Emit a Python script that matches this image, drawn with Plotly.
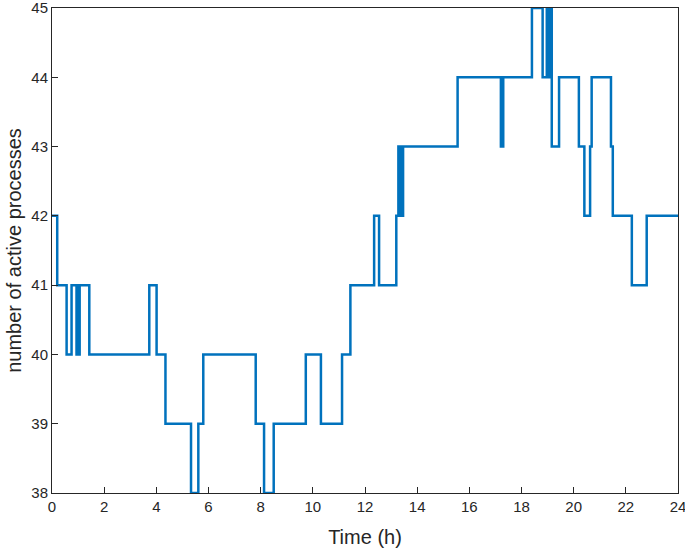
import plotly.graph_objects as go

# step change times (h) and number of active processes after each change
times = [0, 0.20, 0.56, 0.75, 0.94, 0.98, 1.02, 1.06, 1.43, 3.73, 4.01, 4.35,
         5.33, 5.61, 5.80, 7.81, 8.13, 8.50, 9.73, 10.31, 11.12, 11.44, 12.35,
         12.54, 13.20, 13.28, 13.33, 13.37, 13.42, 13.46, 15.55, 17.21, 17.25,
         17.27, 17.30, 18.40, 18.81, 18.97, 19.05, 19.08, 19.16, 19.44, 20.20,
         20.41, 20.63, 20.69, 21.43, 21.50, 22.23, 22.80, 24]
processes = [42, 41, 40, 41, 40, 41, 40, 41, 40, 41, 40, 39,
             38, 39, 40, 39, 38, 39, 40, 39, 40, 41, 42,
             41, 42, 43, 42, 43, 42, 43, 44, 43, 44,
             43, 44, 45, 44, 45, 44, 45, 43, 44, 43,
             42, 43, 44, 43, 42, 41, 42, 42]

x_ticks = list(range(0, 25, 2))
y_ticks = list(range(38, 46))

fig = go.Figure()

fig.add_trace(go.Scatter(
    x=times, y=processes,
    mode='lines',
    line=dict(color='#0072BD', width=2.5, shape='hv'),
    showlegend=False
))

axis_style = dict(
    showline=True, mirror=True, linecolor='#262626', linewidth=1,
    ticks='inside', ticklen=6, tickcolor='#262626', tickwidth=1,
    showgrid=False, zeroline=False, automargin=False,
    ticklabeloverflow='allow',
    tickfont=dict(family='Liberation Sans, Arial, sans-serif', size=15, color='#262626'),
)

fig.update_layout(
    width=685, height=550,
    margin=dict(l=52, r=7, t=8, b=57),
    paper_bgcolor='white', plot_bgcolor='white',
    font=dict(family='Liberation Sans, Arial, sans-serif', color='#262626'),
    xaxis=dict(range=[0, 24], tickvals=x_ticks,
               title=dict(text='Time (h)', font=dict(size=20), standoff=15),
               **axis_style),
    yaxis=dict(range=[38, 45], tickvals=y_ticks,
               title=dict(text='number of active processes', font=dict(size=20), standoff=4),
               **axis_style),
)

# drop the default page margin so the figure sits at the window's corner
fig.write_html("out.html", config={'displayModeBar': False},
               post_script="document.body.style.margin='0';")
